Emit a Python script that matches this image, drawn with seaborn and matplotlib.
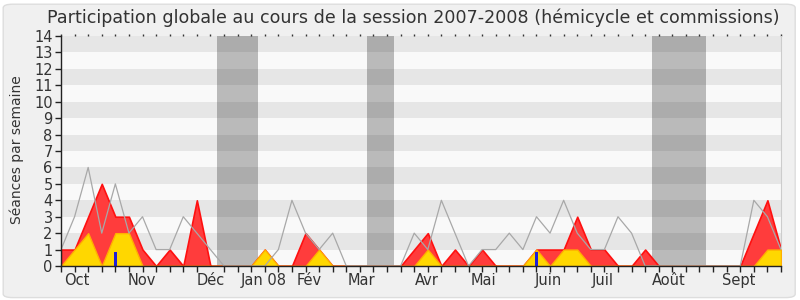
import matplotlib
matplotlib.use("Agg")
import matplotlib.pyplot as plt
import seaborn as sns
import pandas as pd
from matplotlib.patches import FancyBboxPatch
from matplotlib.ticker import FixedLocator

# ---- data ----
weeks = list(range(54))
presence_total = [1, 1, 3, 5, 3, 3, 1, 0, 1, 0, 4, 0, 0, 0, 0, 1, 0, 0, 2, 1,
                  0, 0, 0, 0, 0, 0, 1, 2, 0, 1, 0, 1, 0, 0, 0, 1, 1, 1, 3, 1,
                  1, 0, 0, 1, 0, 0, 0, 0, 0, 0, 0, 2, 4, 1]
presence_hemicycle = [0, 1, 2, 0, 2, 2, 0, 0, 0, 0, 0, 0, 0, 0, 0, 1, 0, 0, 0, 1,
                      0, 0, 0, 0, 0, 0, 0, 1, 0, 0, 0, 0, 0, 0, 0, 1, 0, 1, 1, 0,
                      0, 0, 0, 0, 0, 0, 0, 0, 0, 0, 0, 0, 1, 1]
mediane = [1, 3, 6, 2, 5, 2, 3, 1, 1, 3, 2, 1, 0, 0, 0, 0, 1, 4, 2, 1,
           2, 0, 0, 0, 0, 0, 2, 1, 4, 2, 0, 1, 1, 2, 1, 3, 2, 4, 2, 1,
           1, 3, 2, 0, 0, 0, 0, 0, 0, 0, 0, 4, 3, 1]
question_weeks = [4, 35]
question_values = [0.87, 0.87]
vacances_debut = [11.5, 22.5, 43.5]
vacances_fin = [14.5, 24.5, 47.5]
month_labels = ["Oct", "Nov", "Déc", "Jan 08", "Fév", "Mar", "Avr", "Mai",
                "Juin", "Juil", "Août", "Sept"]
month_pos = [1.16, 5.98, 11.0, 14.9, 18.26, 22.14, 26.96, 31.08, 35.9, 39.88,
             44.76, 49.9]
y_ticks = list(range(15))
title = "Participation globale au cours de la session 2007-2008 (hémicycle et commissions)"
ylabel = "Séances par semaine"

df = pd.DataFrame({"semaine": weeks, "total": presence_total,
                   "hemicycle": presence_hemicycle, "mediane": mediane})

sns.set_style("white")
plt.rcParams['font.family'] = ['DejaVu Sans']
txt = '#333333'

fig = plt.figure(figsize=(8, 3), dpi=100)
fig.patch.set_facecolor('white')
bg = FancyBboxPatch((0.004, 0.008), 0.99, 0.978,
                    boxstyle="round,pad=0,rounding_size=0.012",
                    transform=fig.transFigure, facecolor='#f0f0f0',
                    edgecolor='#dddddd', lw=1, zorder=-10)
fig.patches.append(bg)

ax = fig.add_axes([61 / 800, 34 / 300, 720 / 800, 230 / 300])
ax.set_facecolor('#f9f9f9')

for k in range(14):
    ax.axhspan(k, k + 1, color='#e6e6e6' if k % 2 else '#f9f9f9', lw=0, zorder=0)
for a, b in zip(vacances_debut, vacances_fin):
    ax.axvspan(a, b, color='black', alpha=0.25, lw=0, zorder=1)

ax.fill_between(df["semaine"], df["total"], color='#ff3c3c', edgecolor='#ff1010',
                lw=1.2, zorder=2)
ax.fill_between(df["semaine"], df["hemicycle"], facecolor='#ffd700',
                edgecolor='#ffb000', lw=1, zorder=3)
sns.lineplot(data=df, x="semaine", y="mediane", color='#a8a8a8', lw=0.9,
             ax=ax, zorder=4)
ax.bar(question_weeks, question_values, width=0.25, color='#2020d8',
       edgecolor='none', linewidth=0, zorder=5)

ax.set_xlim(0, 53)
ax.set_ylim(0, 14)
ax.set_xlabel("")
ax.set_ylabel("")

for s in ['left', 'bottom']:
    ax.spines[s].set_color('#222222')
    ax.spines[s].set_linewidth(1)
    ax.spines[s].set_zorder(10)
ax.spines['top'].set_visible(False)
ax.spines['right'].set_color('#cccccc')

ax.set_yticks(y_ticks)
ax.set_yticklabels([str(v) for v in y_ticks])
ax.tick_params(axis='y', which='major', left=True, length=4, width=1,
               labelsize=10.5, labelcolor=txt, color='#222222', pad=2)

ax.xaxis.set_major_locator(FixedLocator(month_pos))
ax.set_xticklabels(month_labels)
ax.xaxis.set_minor_locator(FixedLocator(weeks))
ax.tick_params(axis='x', which='major', length=0, labelsize=10.5,
               labelcolor=txt, pad=5)
ax.tick_params(axis='x', which='minor', bottom=True, length=4,
               width=1, color='#222222')
# small dotted marks along the top edge
ax_top = ax.secondary_xaxis('top')
ax_top.set_xticks(weeks)
ax_top.set_xticklabels([])
ax_top.tick_params(axis='x', length=1.5, width=1, color='#333333')
ax_top.spines['top'].set_visible(False)

fig.text(413 / 800, 1 - 18 / 300, title, ha='center', va='center',
         fontsize=12.6, color=txt)
fig.text(17 / 800, 1 - 150 / 300, ylabel, ha='center', va='center',
         rotation=90, fontsize=10, color=txt)

fig.savefig("out.png", dpi=100, facecolor=fig.get_facecolor())
